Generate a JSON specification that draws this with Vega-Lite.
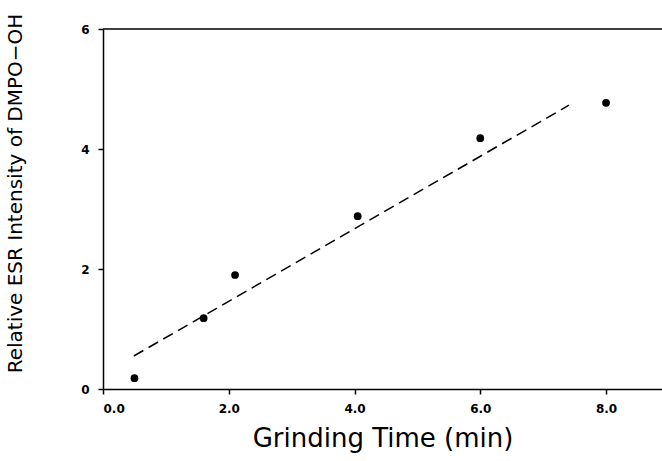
{
  "$schema": "https://vega.github.io/schema/vega-lite/v6.json",
  "width": 559,
  "height": 360,
  "padding": {"left": 103, "top": 29, "right": 0, "bottom": 72},
  "autosize": {"type": "none"},
  "background": "white",
  "config": {"view": {"stroke": null}},
  "datasets": {
    "pts": [
      {"t": 0.5, "v": 0.18},
      {"t": 1.6, "v": 1.18},
      {"t": 2.1, "v": 1.9},
      {"t": 4.05, "v": 2.88},
      {"t": 6.0, "v": 4.18},
      {"t": 8.0, "v": 4.77}
    ],
    "fit": [
      {"t": 0.49, "v": 0.55},
      {"t": 7.41, "v": 4.73}
    ],
    "top": [{"v": 6}]
  },
  "layer": [
    {
      "data": {"name": "top"},
      "mark": {"type": "rule", "color": "black", "strokeWidth": 1.5},
      "encoding": {"y": {"field": "v", "type": "quantitative", "scale": {"domain": [0, 6]}}}
    },
    {
      "data": {"name": "fit"},
      "mark": {"type": "line", "color": "black", "strokeWidth": 1.5, "strokeDash": [11, 6]},
      "encoding": {
        "x": {"field": "t", "type": "quantitative"},
        "y": {"field": "v", "type": "quantitative"}
      }
    },
    {
      "data": {"name": "pts"},
      "mark": {"type": "circle", "color": "black", "opacity": 1, "size": 60},
      "encoding": {
        "x": {
          "field": "t", "type": "quantitative",
          "scale": {"domain": [0, 8.89], "nice": false},
          "axis": {
            "values": [0, 2, 4, 6, 8], "format": ".1f",
            "title": "Grinding Time (min)",
            "titleFont": "DejaVu Sans", "titleFontSize": 26, "titleFontWeight": "normal",
            "titleColor": "black", "titlePadding": 11,
            "labelFont": "DejaVu Sans", "labelFontSize": 12, "labelFontWeight": "bold",
            "labelColor": "black", "labelPadding": 9,
            "tickSize": 5, "tickColor": "black", "tickWidth": 1.5,
            "domainColor": "black", "domainWidth": 1.5, "grid": false
          }
        },
        "y": {
          "field": "v", "type": "quantitative",
          "scale": {"domain": [0, 6], "nice": false},
          "axis": {
            "values": [0, 2, 4, 6], "format": "d",
            "title": "Relative ESR Intensity of DMPO−OH",
            "titleFont": "DejaVu Sans", "titleFontSize": 20, "titleFontWeight": "normal",
            "titleColor": "black", "titleX": -78, "titleY": 164, "titleBaseline": "bottom", "titleAngle": 270,
            "labelFont": "DejaVu Sans", "labelFontSize": 12, "labelFontWeight": "bold",
            "labelColor": "black", "labelPadding": 9,
            "tickSize": 5, "tickColor": "black", "tickWidth": 1.5,
            "domainColor": "black", "domainWidth": 1.5, "grid": false
          }
        }
      }
    }
  ]
}
